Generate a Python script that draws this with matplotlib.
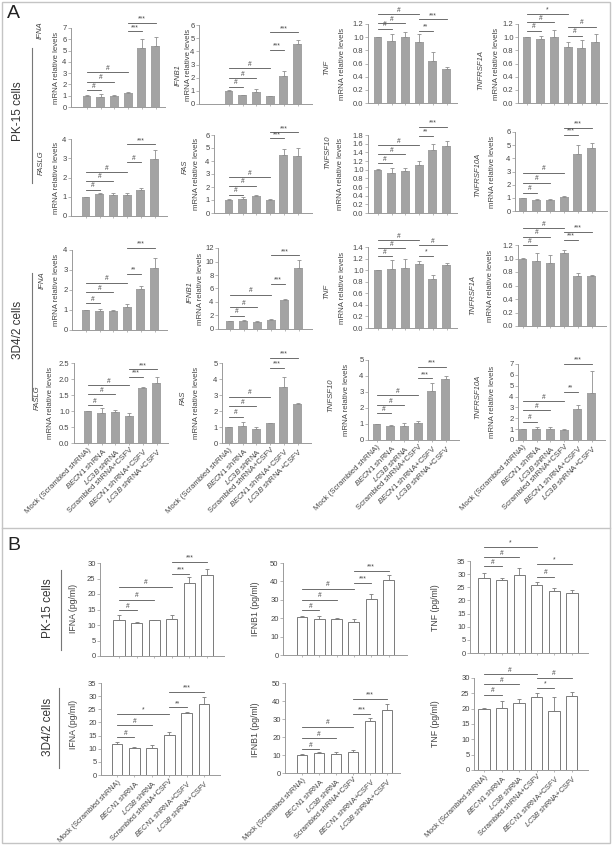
import matplotlib.pyplot as plt
import numpy as np
from matplotlib.patches import Rectangle
from matplotlib.lines import Line2D

plt.rcParams['font.family'] = ['Liberation Sans', 'DejaVu Sans']
plt.rcParams['mathtext.fontset'] = 'custom'
plt.rcParams['mathtext.rm'] = 'Liberation Sans'
plt.rcParams['mathtext.it'] = 'Liberation Sans:italic'

W, H = 613, 851

groups = ["Mock (Scrambled shRNA)", r"$\mathit{BECN1}$ shRNA", r"$\mathit{LC3B}$ shRNA",
          "Scrambled shRNA+CSFV", r"$\mathit{BECN1}$ shRNA+CSFV", r"$\mathit{LC3B}$ shRNA+CSFV"]

# ---- panel A, PK-15 cells (mRNA relative levels) ----
pk_ifna = [1.0, 0.93, 1.0, 1.22, 5.27, 5.39]
pk_ifna_err = [0.02, 0.18, 0.08, 0.12, 0.75, 0.77]
pk_ifna_sig = [(0, 1, 1.5, '#'), (0, 2, 2.23, '#'), (0, 3, 3.1, '#'), (3, 4, 6.7, '***'), (3, 5, 7.44, '***')]

pk_ifnb1 = [1.01, 0.68, 0.94, 0.58, 2.13, 4.56]
pk_ifnb1_err = [0.02, 0.03, 0.2, 0.04, 0.4, 0.3]
pk_ifnb1_sig = [(0, 1, 1.32, '#'), (0, 2, 1.95, '#'), (0, 3, 2.7, '#'), (3, 4, 4.1, '***'), (3, 5, 5.44, '***')]

pk_tnf = [1.0, 0.944, 0.995, 0.924, 0.64, 0.52]
pk_tnf_err = [0.005, 0.1, 0.08, 0.12, 0.13, 0.02]
pk_tnf_sig = [(0, 1, 1.126, '#'), (0, 2, 1.212, '#'), (0, 3, 1.35, '#'), (3, 4, 1.10, '**'), (3, 5, 1.27, '***')]

pk_tnfrsf1a = [1.0, 0.97, 1.01, 0.853, 0.843, 0.92]
pk_tnfrsf1a_err = [0.005, 0.05, 0.1, 0.08, 0.11, 0.13]
pk_tnfrsf1a_sig = [(0, 1, 1.096, '#'), (0, 2, 1.227, '#'), (0, 3, 1.35, '*'), (3, 4, 1.025, '#'), (3, 5, 1.16, '#')]

pk_faslg = [1.0, 1.13, 1.11, 1.08, 1.36, 2.97]
pk_faslg_err = [0.01, 0.05, 0.1, 0.1, 0.12, 0.47]
pk_faslg_sig = [(0, 1, 1.36, '#'), (0, 2, 1.83, '#'), (0, 3, 2.28, '#'), (3, 4, 2.78, '#'), (3, 5, 3.72, '***')]

pk_fas = [1.02, 1.1, 1.3, 1.02, 4.46, 4.41]
pk_fas_err = [0.02, 0.1, 0.08, 0.08, 0.46, 0.56]
pk_fas_sig = [(0, 1, 1.4, '#'), (0, 2, 2.09, '#'), (0, 3, 2.76, '#'), (3, 4, 5.74, '***'), (3, 5, 6.2, '***')]

pk_tnfsf10 = [1.0, 0.93, 0.97, 1.11, 1.455, 1.55]
pk_tnfsf10_err = [0.005, 0.1, 0.08, 0.08, 0.135, 0.12]
pk_tnfsf10_sig = [(0, 1, 1.15, '#'), (0, 2, 1.355, '#'), (0, 3, 1.57, '#'), (3, 4, 1.77, '**'), (3, 5, 1.98, '***')]

pk_tnfrsf10a = [0.99, 0.84, 0.81, 1.06, 4.3, 4.76]
pk_tnfrsf10a_err = [0.01, 0.1, 0.13, 0.1, 0.69, 0.4]
pk_tnfrsf10a_sig = [(0, 1, 1.39, '#'), (0, 2, 2.15, '#'), (0, 3, 2.91, '#'), (3, 4, 5.76, '***'), (3, 5, 6.29, '***')]

# ---- panel A, 3D4/2 cells ----
d3_ifna = [1.0, 0.95, 0.95, 1.15, 2.07, 3.1]
d3_ifna_err = [0.01, 0.12, 0.07, 0.13, 0.13, 0.5]
d3_ifna_sig = [(0, 1, 1.33, '#'), (0, 2, 1.88, '#'), (0, 3, 2.37, '#'), (3, 4, 2.8, '**'), (3, 5, 4.1, '***')]

d3_ifnb1 = [1.13, 1.13, 1.03, 1.33, 4.33, 9.0]
d3_ifnb1_err = [0.02, 0.15, 0.15, 0.2, 0.1, 1.2]
d3_ifnb1_sig = [(0, 1, 1.97, '#'), (0, 2, 3.2, '#'), (0, 3, 5.07, '#'), (3, 4, 6.7, '***'), (3, 5, 10.9, '***')]

d3_tnf = [1.0, 1.02, 1.03, 1.1, 0.84, 1.09]
d3_tnf_err = [0.005, 0.16, 0.17, 0.05, 0.07, 0.03]
d3_tnf_sig = [(0, 1, 1.24, '#'), (0, 2, 1.38, '#'), (0, 3, 1.52, '#'), (3, 4, 1.24, '*'), (3, 5, 1.43, '#')]

d3_tnfrsf1a = [1.0, 0.96, 0.94, 1.086, 0.735, 0.735]
d3_tnfrsf1a_err = [0.005, 0.12, 0.11, 0.04, 0.05, 0.015]
d3_tnfrsf1a_sig = [(0, 1, 1.2, '#'), (0, 2, 1.32, '#'), (0, 3, 1.45, '#'), (3, 4, 1.27, '***'), (3, 5, 1.4, '***')]

d3_faslg = [1.0, 0.95, 0.96, 0.85, 1.71, 1.88]
d3_faslg_err = [0.01, 0.13, 0.07, 0.1, 0.05, 0.19]
d3_faslg_sig = [(0, 1, 1.19, '#'), (0, 2, 1.53, '#'), (0, 3, 1.81, '#'), (3, 4, 2.07, '***'), (3, 5, 2.3, '***')]

d3_fas = [1.0, 1.09, 0.89, 1.22, 3.5, 2.45]
d3_fas_err = [0.02, 0.24, 0.11, 0.04, 0.6, 0.06]
d3_fas_sig = [(0, 1, 1.65, '#'), (0, 2, 2.3, '#'), (0, 3, 2.9, '#'), (3, 4, 4.67, '***'), (3, 5, 5.3, '***')]

d3_tnfsf10 = [1.0, 0.85, 0.85, 1.06, 3.08, 3.79]
d3_tnfsf10_err = [0.01, 0.11, 0.21, 0.11, 0.5, 0.21]
d3_tnfsf10_sig = [(0, 1, 1.67, '#'), (0, 2, 2.19, '#'), (0, 3, 2.81, '#'), (3, 4, 3.85, '***'), (3, 5, 4.58, '***')]

d3_tnfrsf10a = [1.02, 1.02, 1.02, 0.93, 2.9, 4.35]
d3_tnfrsf10a_err = [0.01, 0.21, 0.21, 0.09, 0.28, 2.05]
d3_tnfrsf10a_sig = [(0, 1, 1.7, '#'), (0, 2, 2.72, '#'), (0, 3, 3.55, '#'), (3, 4, 4.42, '**'), (3, 5, 7.04, '***')]

# ---- panel B, protein (pg/ml) ----
pk_ifna_pg = [11.6, 10.5, 11.5, 11.8, 23.4, 26.0]
pk_ifna_pg_err = [1.6, 0.5, 0.2, 1.4, 2.1, 2.0]
pk_ifna_pg_sig = [(0, 1, 14.8, '#'), (0, 2, 18.2, '#'), (0, 3, 22.3, '#'), (3, 4, 26.4, '***'), (3, 5, 30.3, '***')]

pk_ifnb1_pg = [20.8, 19.5, 19.5, 18.0, 30.3, 40.6]
pk_ifnb1_pg_err = [0.5, 1.6, 0.4, 1.3, 3.1, 3.1]
pk_ifnb1_pg_sig = [(0, 1, 24.4, '#'), (0, 2, 30.1, '#'), (0, 3, 36.1, '#'), (3, 4, 39.4, '***'), (3, 5, 45.7, '***')]

pk_tnf_pg = [28.6, 27.96, 29.6, 25.8, 23.55, 23.0]
pk_tnf_pg_err = [2.0, 0.7, 2.9, 1.3, 1.0, 0.8]
pk_tnf_pg_sig = [(0, 1, 33.0, '#'), (0, 2, 36.5, '#'), (0, 3, 40.3, '*'), (3, 4, 29.0, '#'), (3, 5, 34.0, '*')]

d3_ifna_pg = [11.65, 10.25, 10.25, 15.4, 23.4, 27.2]
d3_ifna_pg_err = [1.0, 0.5, 1.2, 1.1, 0.6, 2.5]
d3_ifna_pg_sig = [(0, 1, 14.3, '#'), (0, 2, 19.0, '#'), (0, 3, 23.2, '*'), (3, 4, 25.7, '**'), (3, 5, 31.6, '***')]

d3_ifnb1_pg = [10.1, 11.0, 10.8, 11.4, 28.8, 34.9]
d3_ifnb1_pg_err = [0.4, 0.4, 0.8, 1.4, 1.8, 3.6]
d3_ifnb1_pg_sig = [(0, 1, 13.2, '#'), (0, 2, 19.3, '#'), (0, 3, 25.7, '#'), (3, 4, 32.7, '***'), (3, 5, 41.3, '***')]

d3_tnf_pg = [19.8, 20.3, 21.9, 23.8, 19.1, 24.0]
d3_tnf_pg_err = [0.5, 2.2, 1.1, 1.3, 4.7, 1.4]
d3_tnf_pg_sig = [(0, 1, 24.6, '#'), (0, 2, 27.9, '#'), (0, 3, 31.3, '#'), (3, 4, 26.9, '*'), (3, 5, 30.1, '#')]

fig = plt.figure(figsize=(W / 100, H / 100), dpi=100)

GRAY_BAR = '#a3a3a3'
AX_COL = '#9a9a9a'
TXT = '#444444'
LINE = '#555555'


def fx(x):
    return x / W


def fy(y):
    return 1 - y / H


def bracket(ax, x, sig):
    for i, j, y, lab in sig:
        ax.plot([x[i], x[j]], [y, y], color=LINE, lw=0.6, clip_on=False)
        ax.annotate(lab, xy=((x[i] + x[j]) / 2, y), xytext=(0, 0.3), textcoords='offset points',
                    ha='center', va='bottom', fontsize=4.8, color=TXT, annotation_clip=False)


def panel(box, vals, err, sig, ymax, step, fmt, white=False, xlabels=False, sp=13.7, xfs=5.6):
    left, right, y0, ytop, first = box
    ax = fig.add_axes([fx(left), fy(y0), (right - left) / W, (y0 - ytop) / H])
    x = np.arange(len(vals))
    if white:
        ax.bar(x, vals, width=0.63, color='white', edgecolor='#7a7a7a', linewidth=0.7)
        ax.errorbar(x, vals, yerr=[np.zeros(len(err)), err], fmt='none', ecolor='#7a7a7a',
                    elinewidth=0.6, capsize=1.6, capthick=0.6)
    else:
        ax.bar(x, vals, width=0.65, color=GRAY_BAR, linewidth=0)
        ax.errorbar(x, vals, yerr=[np.zeros(len(err)), err], fmt='none', ecolor='#8f8f8f',
                    elinewidth=0.6, capsize=1.4, capthick=0.6)
    ax.set_xlim((left - first) / sp, (right - first) / sp)
    ax.set_ylim(0, ymax)
    ticks = np.arange(0, ymax + step / 2, step)
    ax.set_yticks(ticks)
    ax.set_yticklabels([fmt % t for t in ticks])
    ax.set_xticks(x)
    if xlabels:
        ax.set_xticklabels(groups, rotation=45, ha='right', va='top', rotation_mode='anchor',
                           fontsize=xfs, color=TXT)
    else:
        ax.set_xticklabels([])
    for s in ['top', 'right']:
        ax.spines[s].set_visible(False)
    for s in ['left', 'bottom']:
        ax.spines[s].set_color(AX_COL)
        ax.spines[s].set_linewidth(0.7)
    ax.tick_params(axis='y', length=2, width=0.5, color=AX_COL, labelsize=5.5, labelcolor=TXT, pad=1.2)
    ax.tick_params(axis='x', length=1.5, width=0.5, color=AX_COL, pad=1)
    ax.patch.set_alpha(0)
    bracket(ax, x, sig)
    return ax


# panel A subplots: (axis left, axis right, y of zero, y of top, first bar centre) in pixels
a_specs = [
    ((71, 165, 107, 28, 87), pk_ifna, pk_ifna_err, pk_ifna_sig, 7, 1, '%d', 'IFNA', (40, 30), 57),
    ((199, 312, 104, 25, 229), pk_ifnb1, pk_ifnb1_err, pk_ifnb1_sig, 6, 1, '%d', 'IFNB1', (178, 75), 188),
    ((368, 457, 103, 24, 378), pk_tnf, pk_tnf_err, pk_tnf_sig, 1.2, 0.2, '%.1f', 'TNF', (327, 67), 343),
    ((518, 607, 103, 24, 527), pk_tnfrsf1a, pk_tnfrsf1a_err, pk_tnfrsf1a_sig, 1.2, 0.2, '%.1f', 'TNFRSF1A', (481, 70), 497),
    ((71, 167, 216, 139, 86), pk_faslg, pk_faslg_err, pk_faslg_sig, 4, 1, '%d', 'FASLG', (41, 163), 57),
    ((214, 312, 213, 135, 229), pk_fas, pk_fas_err, pk_fas_sig, 6, 1, '%d', 'FAS', (185, 167), 197),
    ((368, 457, 213, 135, 378), pk_tnfsf10, pk_tnfsf10_err, pk_tnfsf10_sig, 1.8, 0.2, '%.1f', 'TNFSF10', (328, 152), 341),
    ((515, 607, 211, 132, 523), pk_tnfrsf10a, pk_tnfrsf10a_err, pk_tnfrsf10a_sig, 6, 1, '%d', 'TNFRSF10A', (478, 175), 493),
    ((72, 167, 330, 250, 86), d3_ifna, d3_ifna_err, d3_ifna_sig, 4, 1, '%d', 'IFNA', (42, 280), 57),
    ((218, 312, 329, 248, 230), d3_ifnb1, d3_ifnb1_err, d3_ifnb1_sig, 12, 2, '%d', 'IFNB1', (190, 292), 201),
    ((368, 457, 328, 247, 378), d3_tnf, d3_tnf_err, d3_tnf_sig, 1.4, 0.2, '%.1f', 'TNF', (327, 291), 343),
    ((518, 606, 326, 245, 523), d3_tnfrsf1a, d3_tnfrsf1a_err, d3_tnfrsf1a_sig, 1.2, 0.2, '%.1f', 'TNFRSF1A', (473, 295), 490),
    ((74, 168, 443, 363, 88), d3_faslg, d3_faslg_err, d3_faslg_sig, 2.5, 0.5, '%.1f', 'FASLG', (37, 398), 50),
    ((222, 311, 443, 363, 229), d3_fas, d3_fas_err, d3_fas_sig, 5, 1, '%d', 'FAS', (183, 398), 197),
    ((368, 459, 440, 360, 377), d3_tnfsf10, d3_tnfsf10_err, d3_tnfsf10_sig, 5, 1, '%d', 'TNFSF10', (331, 395), 347),
    ((518, 605, 440, 364, 523), d3_tnfrsf10a, d3_tnfrsf10a_err, d3_tnfrsf10a_sig, 7, 1, '%d', 'TNFRSF10A', (478, 397), 493),
]

for k, (box, v, e, s, ymax, step, fmt, gene, gpos, mx) in enumerate(a_specs):
    panel(box, v, e, s, ymax, step, fmt, xlabels=(k >= 12))
    fig.text(fx(gpos[0]), fy(gpos[1]), gene, rotation=90, ha='center', va='center',
             fontsize=5.6, style='italic', color=TXT)
    fig.text(fx(mx), fy((box[2] + box[3]) / 2), 'mRNA relative levels', rotation=90,
             ha='center', va='center', fontsize=5.6, color=TXT)

# panel B subplots
b_specs = [
    ((100, 224, 656, 563, 119), 17.6, pk_ifna_pg, pk_ifna_pg_err, pk_ifna_pg_sig, 30, 5, 'IFNA (pg/ml)', (73, 608)),
    ((283, 407, 655, 563, 302), 17.3, pk_ifnb1_pg, pk_ifnb1_pg_err, pk_ifnb1_pg_sig, 50, 10, 'IFNB1 (pg/ml)', (255, 609)),
    ((470, 588, 653, 561, 484), 17.6, pk_tnf_pg, pk_tnf_pg_err, pk_tnf_pg_sig, 35, 5, 'TNF (pg/ml)', (435, 608)),
    ((101, 220, 775, 683, 117), 17.4, d3_ifna_pg, d3_ifna_pg_err, d3_ifna_pg_sig, 35, 5, 'IFNA (pg/ml)', (73, 724)),
    ((285, 400, 773, 683, 302), 17.0, d3_ifnb1_pg, d3_ifnb1_pg_err, d3_ifnb1_pg_sig, 50, 10, 'IFNB1 (pg/ml)', (255, 730)),
    ((474, 588, 770, 678, 484), 17.5, d3_tnf_pg, d3_tnf_pg_err, d3_tnf_pg_sig, 30, 5, 'TNF (pg/ml)', (435, 724)),
]

for k, (box, sp, v, e, s, ymax, step, lab, lpos) in enumerate(b_specs):
    panel(box, v, e, s, ymax, step, '%d', white=True, xlabels=(k >= 3), sp=sp, xfs=5.3)
    fig.text(fx(lpos[0]), fy(lpos[1]), lab, rotation=90, ha='center', va='center',
             fontsize=6.3, color=TXT)

# cell-line labels with their side lines
cells = [("PK-15 cells", 18, 111, 32, 48, 183), ("3D4/2 cells", 18, 330, 32, 273, 400),
         ("PK-15 cells", 48, 608, 61, 570, 650), ("3D4/2 cells", 48, 727, 59, 688, 768)]
for name, tx, ty, lx, l0, l1 in cells:
    fig.text(fx(tx), fy(ty), name, rotation=90, ha='center', va='center', fontsize=8.5, color='#333333')
    fig.add_artist(Line2D([fx(lx), fx(lx)], [fy(l0), fy(l1)], color='#777777', lw=0.8))

fig.text(fx(7), fy(5), 'A', fontsize=14, va='top', ha='left', color='#222222')
fig.text(fx(7), fy(537), 'B', fontsize=14, va='top', ha='left', color='#222222')

# frame round both panels
fig.add_artist(Rectangle((fx(2), fy(843)), fx(608), (841) / H, fill=False, edgecolor='#c4c4c4', lw=1.0))
fig.add_artist(Line2D([fx(2), fx(610)], [fy(528), fy(528)], color='#c4c4c4', lw=1.0))

fig.savefig('out.png', dpi=100)
